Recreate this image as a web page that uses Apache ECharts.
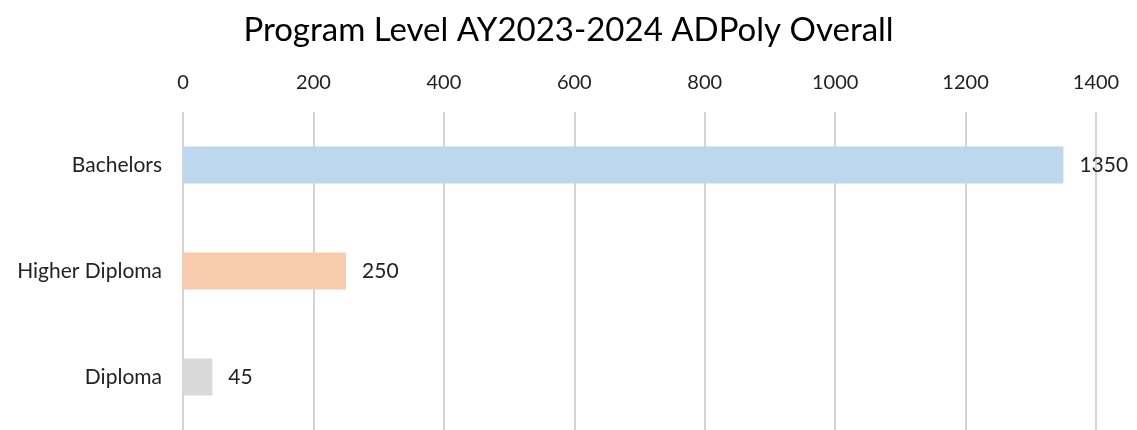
<!DOCTYPE html>
<html>
<head>
<meta charset="utf-8">
<script src="https://cdn.jsdelivr.net/npm/echarts@6/dist/echarts.min.js"></script>
<style>
  html, body { margin: 0; padding: 0; background: #fff; }
  #chart { width: 1137px; height: 430px; }
</style>
</head>
<body>
<div id="chart"></div>
<script>
const programLevels = ["Bachelors", "Higher Diploma", "Diploma"];
const studentCounts = [1350, 250, 45];
const barColors = ["#BDD7EE", "#F8CBAD", "#D9D9D9"];
const valueTicks = [0, 200, 400, 600, 800, 1000, 1200, 1400];

const font = "Lato, 'Open Sans', sans-serif";
const chart = echarts.init(document.getElementById("chart"));

chart.setOption({
  animation: false,
  title: {
    text: "Program Level AY2023-2024 ADPoly Overall",
    left: "center",
    top: 9,
    textStyle: { fontFamily: font, fontSize: 33, fontWeight: "normal", color: "#000" }
  },
  grid: { left: 183, right: 41, top: 112, bottom: -1 },
  xAxis: {
    type: "value",
    position: "top",
    min: valueTicks[0],
    max: valueTicks[valueTicks.length - 1],
    interval: 200,
    axisLine: { show: false },
    axisTick: { show: false },
    axisLabel: {
      fontFamily: font,
      fontSize: 20,
      color: "#222",
      margin: 19,
      formatter: (v) => String(v)
    },
    splitLine: { lineStyle: { color: "#D4D4D4", width: 2 } }
  },
  yAxis: {
    type: "category",
    inverse: true,
    data: programLevels,
    axisLine: { show: false },
    axisTick: { show: false },
    axisLabel: { fontFamily: font, fontSize: 21, color: "#222", margin: 21 }
  },
  series: [
    {
      type: "bar",
      barWidth: 37,
      data: studentCounts.map((value, i) => ({ value, itemStyle: { color: barColors[i] } })),
      label: {
        show: true,
        position: "right",
        distance: 16,
        fontFamily: font,
        fontSize: 21,
        color: "#222"
      }
    }
  ]
});
</script>
</body>
</html>
